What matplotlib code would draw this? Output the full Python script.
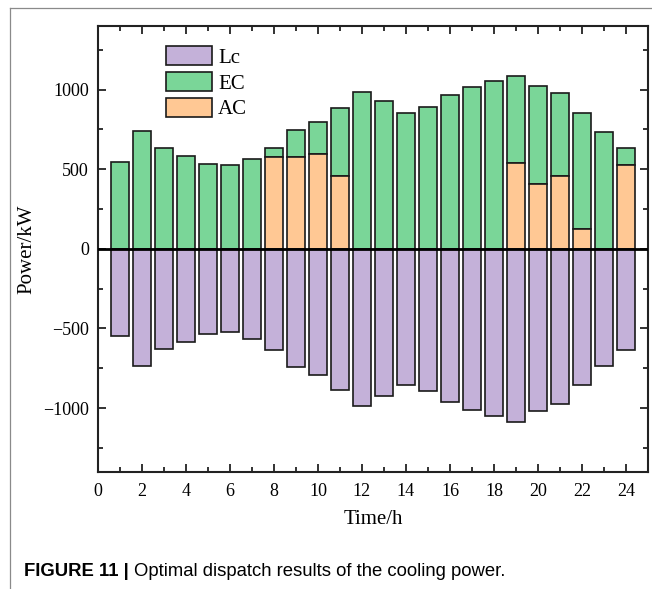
import matplotlib
matplotlib.use("Agg")
import matplotlib.pyplot as plt
from matplotlib.lines import Line2D
from matplotlib.ticker import MultipleLocator

hours = list(range(1, 25))
Lc = [-546, -738, -632, -583, -533, -525, -565, -636, -745, -795, -885, -985,
      -927, -854, -891, -964, -1014, -1052, -1085, -1021, -977, -854, -736, -636]
EC = [546, 738, 632, 583, 533, 525, 565, 61, 170, 197, 425, 985,
      927, 854, 891, 964, 1014, 1052, 543, 615, 519, 732, 736, 111]
AC = [0, 0, 0, 0, 0, 0, 0, 575, 575, 598, 460, 0,
      0, 0, 0, 0, 0, 0, 542, 406, 458, 122, 0, 525]

c_lc = "#C4B1D9"
c_ec = "#7AD698"
c_ac = "#FFC894"

plt.rcParams['font.family'] = ['Liberation Serif', 'DejaVu Serif']

fig = plt.figure(figsize=(6.52, 5.89), dpi=100)
ax = fig.add_axes([0.150, 0.1992, 0.844, 0.7567])

w = 0.8
ax.bar(hours, Lc, width=w, color=c_lc, edgecolor="#1a1a1a", linewidth=1.2, label="Lc", zorder=2)
ax.bar(hours, EC, width=w, bottom=AC, color=c_ec, edgecolor="#1a1a1a", linewidth=1.2, label="EC", zorder=2)
ax.bar(hours, AC, width=w, color=c_ac, edgecolor="#1a1a1a", linewidth=1.2, label="AC", zorder=2)
ax.axhline(0, color="black", linewidth=2.0, zorder=3)

ax.set_xlim(0, 25)
ax.set_ylim(-1400, 1400)
ax.xaxis.set_major_locator(MultipleLocator(2))
ax.xaxis.set_minor_locator(MultipleLocator(1))
ax.yaxis.set_major_locator(MultipleLocator(500))
ax.yaxis.set_minor_locator(MultipleLocator(250))
ax.set_yticks([-1000, -500, 0, 500, 1000])
ax.tick_params(which="both", direction="in", top=True, right=True, width=1.3, color="#222222")
ax.tick_params(which="major", length=6)
ax.tick_params(which="minor", length=3.5)
ax.tick_params(axis="x", which="major", labelsize=13, pad=8.5)
ax.tick_params(axis="y", which="major", labelsize=13, pad=6.5)
ax.set_yticklabels(["\u22121000", "\u2212500", "0", "500", "1000"])
for s in ax.spines.values():
    s.set_linewidth(1.5)
    s.set_color("#222222")

ax.set_xlabel("Time/h", fontsize=15)
ax.set_ylabel("Power/kW", fontsize=15)
ax.xaxis.set_label_coords(0.5, -0.108)
ax.xaxis.label.set_va("center")
ax.yaxis.set_label_coords(-0.128, 0.5)
ax.yaxis.label.set_va("center")

ax.legend(loc="upper left", bbox_to_anchor=(0.124, 0.955), frameon=False,
          fontsize=15, handlelength=2.2, handleheight=1.06, labelspacing=0.19,
          handletextpad=0.3, borderpad=0, borderaxespad=0)

# outer frame lines
fig.add_artist(Line2D([10/652, 1.0], [1 - 8/589, 1 - 8/589], transform=fig.transFigure,
                      color="#8a8a8a", linewidth=0.9))
fig.add_artist(Line2D([10/652, 10/652], [0, 1 - 8/589], transform=fig.transFigure,
                      color="#8a8a8a", linewidth=0.9))

fig.text(24/652, 1 - 571/589, "FIGURE 11 | ", fontsize=13.3, fontweight="bold",
         family="Liberation Sans", va="center", ha="left")
fig.canvas.draw()
t0 = fig.texts[-1]
bb = t0.get_window_extent()
fig.text(bb.x1/652, 1 - 571/589, "Optimal dispatch results of the cooling power.",
         fontsize=13.3, family="Liberation Sans", va="center", ha="left")

fig.savefig("out.png", dpi=100)
